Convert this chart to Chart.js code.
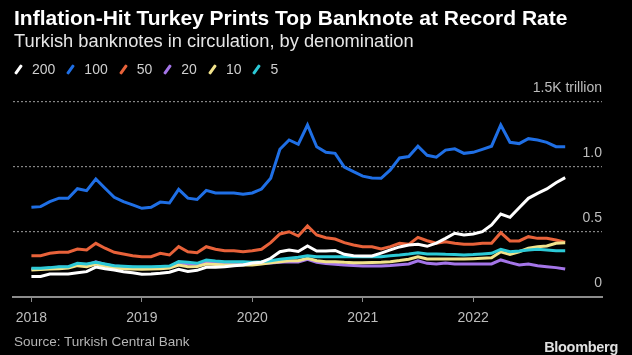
<!DOCTYPE html>
<html>
<head>
<meta charset="utf-8">
<script src="https://cdn.jsdelivr.net/npm/chart.js@4.4.1/dist/chart.umd.min.js"></script>
<style>
html,body{margin:0;padding:0;background:#000;}
#wrap{position:relative;width:632px;height:355px;overflow:hidden;background:#000;font-family:"Liberation Sans",Arial,sans-serif;}
canvas{position:absolute;left:0;top:0;}
.t{position:absolute;white-space:nowrap;line-height:1.15;}
#title{left:14px;top:6px;font-size:21px;font-weight:bold;color:#fff;}
#sub{left:14px;top:30px;font-size:18.3px;color:#e6e6e6;}
#legend{left:14px;top:61px;font-size:14px;color:#cfcfcf;display:flex;align-items:center;}
.item{display:flex;align-items:center;margin-right:11px;}
.sw{display:inline-block;width:3px;height:11px;transform:rotate(35deg);margin:0 12px 0 3px;border-radius:1px;}
#src{left:14px;top:334px;font-size:13.5px;color:#b5b5b5;}
#bb{right:14px;top:339px;font-size:14.5px;font-weight:bold;color:#e0e0e0;letter-spacing:-0.3px;}
</style>
</head>
<body>
<div id="wrap">
<canvas id="c" width="632" height="355"></canvas>
<div class="t" id="title">Inflation-Hit Turkey Prints Top Banknote at Record Rate</div>
<div class="t" id="sub">Turkish banknotes in circulation, by denomination</div>
<div class="t" id="legend"></div>
<div class="t" id="src">Source: Turkish Central Bank</div>
<div class="t" id="bb">Bloomberg</div>
</div>
<script>
// Monthly observations, Jan 2018 .. Nov 2022 (trillion lira)
const firstYear = 2018;
const xTickYears = [2018, 2019, 2020, 2021, 2022];
const yTicks = [0, 0.5, 1.0, 1.5];
const yTickLabels = ['0', '0.5', '1.0', '1.5K trillion'];

const seriesNames = ['200', '100', '50', '20', '10', '5'];

const values200 = [0.158,0.158,0.177,0.177,0.177,0.187,0.195,0.23,0.218,0.208,0.195,0.187,
  0.175,0.176,0.182,0.19,0.213,0.197,0.205,0.228,0.228,0.233,0.241,0.246,
  0.262,0.268,0.298,0.348,0.362,0.35,0.392,0.354,0.354,0.358,0.328,0.318,
  0.315,0.315,0.338,0.362,0.385,0.40,0.405,0.39,0.415,0.451,0.49,0.477,
  0.485,0.502,0.554,0.638,0.613,0.687,0.759,0.797,0.831,0.879,0.918];

const values100 = [0.69,0.695,0.733,0.76,0.76,0.833,0.818,0.908,0.836,0.767,0.733,0.708,
  0.682,0.69,0.73,0.723,0.828,0.76,0.75,0.82,0.80,0.80,0.80,0.79,
  0.80,0.83,0.913,1.136,1.208,1.175,1.323,1.156,1.113,1.105,1.00,0.964,
  0.93,0.915,0.913,0.977,1.07,1.08,1.16,1.09,1.075,1.13,1.14,1.105,
  1.113,1.136,1.16,1.323,1.19,1.18,1.218,1.208,1.19,1.156,1.156];

const values50 = [0.318,0.318,0.336,0.344,0.344,0.369,0.362,0.413,0.375,0.344,0.331,0.318,
  0.31,0.31,0.336,0.323,0.387,0.348,0.341,0.387,0.367,0.356,0.356,0.348,
  0.356,0.367,0.418,0.485,0.502,0.469,0.546,0.477,0.456,0.446,0.418,0.40,
  0.387,0.387,0.369,0.387,0.413,0.405,0.459,0.433,0.413,0.425,0.413,0.405,
  0.405,0.413,0.413,0.495,0.431,0.431,0.464,0.451,0.451,0.438,0.421];

const values20 = [0.215,0.218,0.222,0.228,0.228,0.25,0.245,0.27,0.25,0.238,0.232,0.228,
  0.225,0.225,0.23,0.232,0.262,0.255,0.25,0.27,0.262,0.258,0.258,0.258,
  0.255,0.258,0.262,0.268,0.272,0.27,0.29,0.268,0.258,0.252,0.246,0.242,
  0.238,0.238,0.238,0.242,0.248,0.254,0.279,0.259,0.254,0.262,0.254,0.254,
  0.254,0.254,0.254,0.285,0.264,0.246,0.254,0.241,0.233,0.226,0.215];

const values10 = [0.208,0.212,0.215,0.218,0.223,0.241,0.233,0.254,0.233,0.223,0.218,0.215,
  0.213,0.215,0.218,0.223,0.246,0.233,0.235,0.254,0.25,0.246,0.246,0.246,
  0.246,0.254,0.264,0.272,0.279,0.279,0.298,0.279,0.272,0.272,0.267,0.264,
  0.264,0.266,0.268,0.272,0.28,0.29,0.31,0.292,0.292,0.292,0.292,0.292,
  0.295,0.298,0.302,0.348,0.328,0.348,0.375,0.387,0.392,0.413,0.418];

const values5 = [0.221,0.221,0.226,0.233,0.233,0.259,0.254,0.267,0.254,0.241,0.237,0.233,
  0.233,0.233,0.235,0.238,0.272,0.267,0.259,0.285,0.277,0.272,0.272,0.272,
  0.267,0.272,0.279,0.29,0.298,0.305,0.318,0.31,0.31,0.31,0.31,0.31,
  0.31,0.31,0.31,0.318,0.323,0.331,0.341,0.331,0.331,0.328,0.327,0.323,
  0.326,0.331,0.336,0.367,0.348,0.354,0.362,0.367,0.362,0.356,0.356];

const seriesValues = [values200, values100, values50, values20, values10, values5];
const seriesColors = ['#ffffff', '#1f6fe5', '#e8623a', '#a475e8', '#f2e38c', '#2cc9d6'];
const drawOrder = [0, 5, 4, 3, 2, 1]; // lower = drawn on top

const FONT = '"Liberation Sans", Arial, sans-serif';

// legend
const lg = document.getElementById('legend');
seriesNames.forEach((n, k) => {
  const it = document.createElement('span');
  it.className = 'item';
  const sw = document.createElement('span');
  sw.className = 'sw';
  sw.style.background = seriesColors[k];
  const tx = document.createElement('span');
  tx.textContent = n;
  it.appendChild(sw); it.appendChild(tx);
  lg.appendChild(it);
});

const datasets = seriesNames.map((n, k) => ({
  label: n,
  data: seriesValues[k].map((v, i) => ({x: i, y: v})),
  borderColor: seriesColors[k],
  backgroundColor: seriesColors[k],
  borderWidth: 3,
  pointRadius: 0,
  tension: 0,
  fill: false,
  order: drawOrder[k]
}));

new Chart(document.getElementById('c').getContext('2d'), {
  type: 'line',
  data: {datasets},
  options: {
    responsive: false,
    animation: false,
    devicePixelRatio: 1,
    layout: {padding: {left: 13, right: 30, top: 101.6, bottom: 20.2}},
    plugins: {legend: {display: false}, tooltip: {enabled: false}, title: {display: false}},
    scales: {
      x: {
        type: 'linear',
        min: -2,
        max: 62,
        afterBuildTicks: sc => { sc.ticks = xTickYears.map(y => ({value: (y - firstYear) * 12})); },
        ticks: {
          autoSkip: false, maxRotation: 0, padding: 8,
          color: '#bdbdbd', font: {family: FONT, size: 14},
          callback: v => String(firstYear + Math.round(v / 12))
        },
        grid: {drawOnChartArea: false, drawTicks: true, tickLength: 5, color: '#8c8c8c', lineWidth: 1},
        border: {display: true, color: '#8c8c8c', width: 2}
      },
      y: {
        position: 'right',
        min: 0,
        max: 1.503,
        afterBuildTicks: sc => { sc.ticks = yTicks.map(v => ({value: v})); },
        ticks: {
          mirror: true, padding: 0, labelOffset: -13.5, autoSkip: false,
          color: '#bdbdbd', font: {family: FONT, size: 14},
          callback: (v, i) => yTickLabels[i]
        },
        grid: {
          drawTicks: false, lineWidth: 1.2,
          color: c => (c.tick && c.tick.value === 0) ? 'rgba(0,0,0,0)' : '#858585'
        },
        border: {display: false, dash: [2, 2]}
      }
    }
  }
});
</script>
</body>
</html>
